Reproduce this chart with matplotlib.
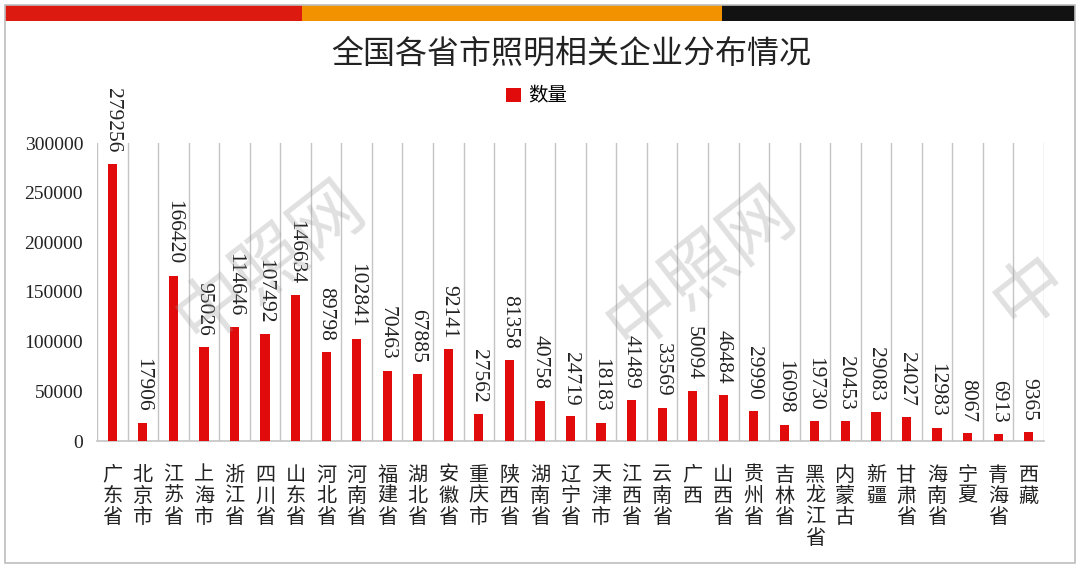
import matplotlib
matplotlib.use("Agg")
import matplotlib.pyplot as plt
from matplotlib.patches import Rectangle

plt.rcParams['font.family'] = ['Noto Sans CJK SC', 'DejaVu Sans']

categories = ["广东省", "北京市", "江苏省", "上海市", "浙江省", "四川省", "山东省", "河北省",
              "河南省", "福建省", "湖北省", "安徽省", "重庆市", "陕西省", "湖南省", "辽宁省",
              "天津市", "江西省", "云南省", "广西", "山西省", "贵州省", "吉林省", "黑龙江省",
              "内蒙古", "新疆", "甘肃省", "海南省", "宁夏", "青海省", "西藏"]
values = [279256, 17906, 166420, 95026, 114646, 107492, 146634, 89798,
          102841, 70463, 67885, 92141, 27562, 81358, 40758, 24719,
          18183, 41489, 33569, 50094, 46484, 29990, 16098, 19730,
          20453, 29083, 24027, 12983, 8067, 6913, 9365]
yticks = [0, 50000, 100000, 150000, 200000, 250000, 300000]
title = "全国各省市照明相关企业分布情况"
series_name = "数量"

BAR = '#E10B0B'
GRID = '#C4C4C4'
SERIF = ['Liberation Serif', 'DejaVu Serif']

W, H = 1080, 571
fig = plt.figure(figsize=(W / 100, H / 100), dpi=100)

# outer frame and top stripes (figure pixel coordinates)
def px(x0, y0, x1, y1):
    return (x0 / W, 1 - y1 / H), (x1 - x0) / W, (y1 - y0) / H

for (x0, y0, x1, y1), c in [((5, 5, 302, 21), '#DD1A10'),
                            ((302, 5, 722, 21), '#F39200'),
                            ((722, 5, 1075, 21), '#121212')]:
    xy, w, h = px(x0, y0, x1, y1)
    fig.patches.append(Rectangle(xy, w, h, transform=fig.transFigure,
                                 facecolor=c, edgecolor='none', zorder=1))
xy, w, h = px(5, 5, 1075, 563)
fig.patches.append(Rectangle(xy, w, h, transform=fig.transFigure,
                             facecolor='none', edgecolor='#BDBDBD', lw=1.2, zorder=1))

ax = fig.add_axes([97 / W, 1 - 441 / H, (1044 - 97) / W, (441 - 143) / H])
n = len(categories)
x = list(range(n))
ax.bar(x, values, width=0.3, color=BAR, zorder=3, label=series_name)

ax.set_xlim(-0.5, n - 0.5)
ax.set_ylim(0, 300000)
ax.set_yticks(yticks)
ax.set_yticklabels([str(v) for v in yticks], family=SERIF, fontsize=14, color='#222222')

# vertical separators between categories
for b in [i - 0.5 for i in range(n + 1)]:
    ax.axvline(b, color=GRID, lw=1.0, zorder=1)

for s in ['top', 'right', 'left']:
    ax.spines[s].set_visible(False)
ax.spines['bottom'].set_color(GRID)
ax.spines['bottom'].set_linewidth(1.2)
ax.tick_params(axis='both', length=0)
ax.tick_params(axis='y', pad=10)
ax.tick_params(axis='x', pad=17)

ax.set_xticks(x)
ax.set_xticklabels(["\n".join(c) for c in categories], fontsize=14.5, color='#222222',
                   linespacing=1.0, va='top')

for xi, v in zip(x, values):
    ax.annotate(str(v), (xi, v), xytext=(0, 8), textcoords='offset points',
                rotation=-90, ha='center', va='bottom', family=SERIF, fontsize=15.5,
                color='#222222', annotation_clip=False, zorder=4)

fig.text(571 / W, 1 - 54 / H, title, ha='center', va='center', fontsize=23, color='#222222')
leg = ax.legend(loc='center', bbox_to_anchor=(537 / W, 1 - 96 / H),
                bbox_transform=fig.transFigure, frameon=False, fontsize=14,
                handlelength=0.75, handleheight=0.75, handletextpad=0.4)

# watermarks
for (wx, wy, s) in [(270, 262, "中照网"), (700, 268, "中照网"), (1030, 292, "中")]:
    fig.text(wx / W, 1 - wy / H, s, rotation=38, ha='center', va='center',
             fontsize=52, color='#9A9A9A', alpha=0.3, zorder=10)

fig.savefig("out.png", dpi=100)
